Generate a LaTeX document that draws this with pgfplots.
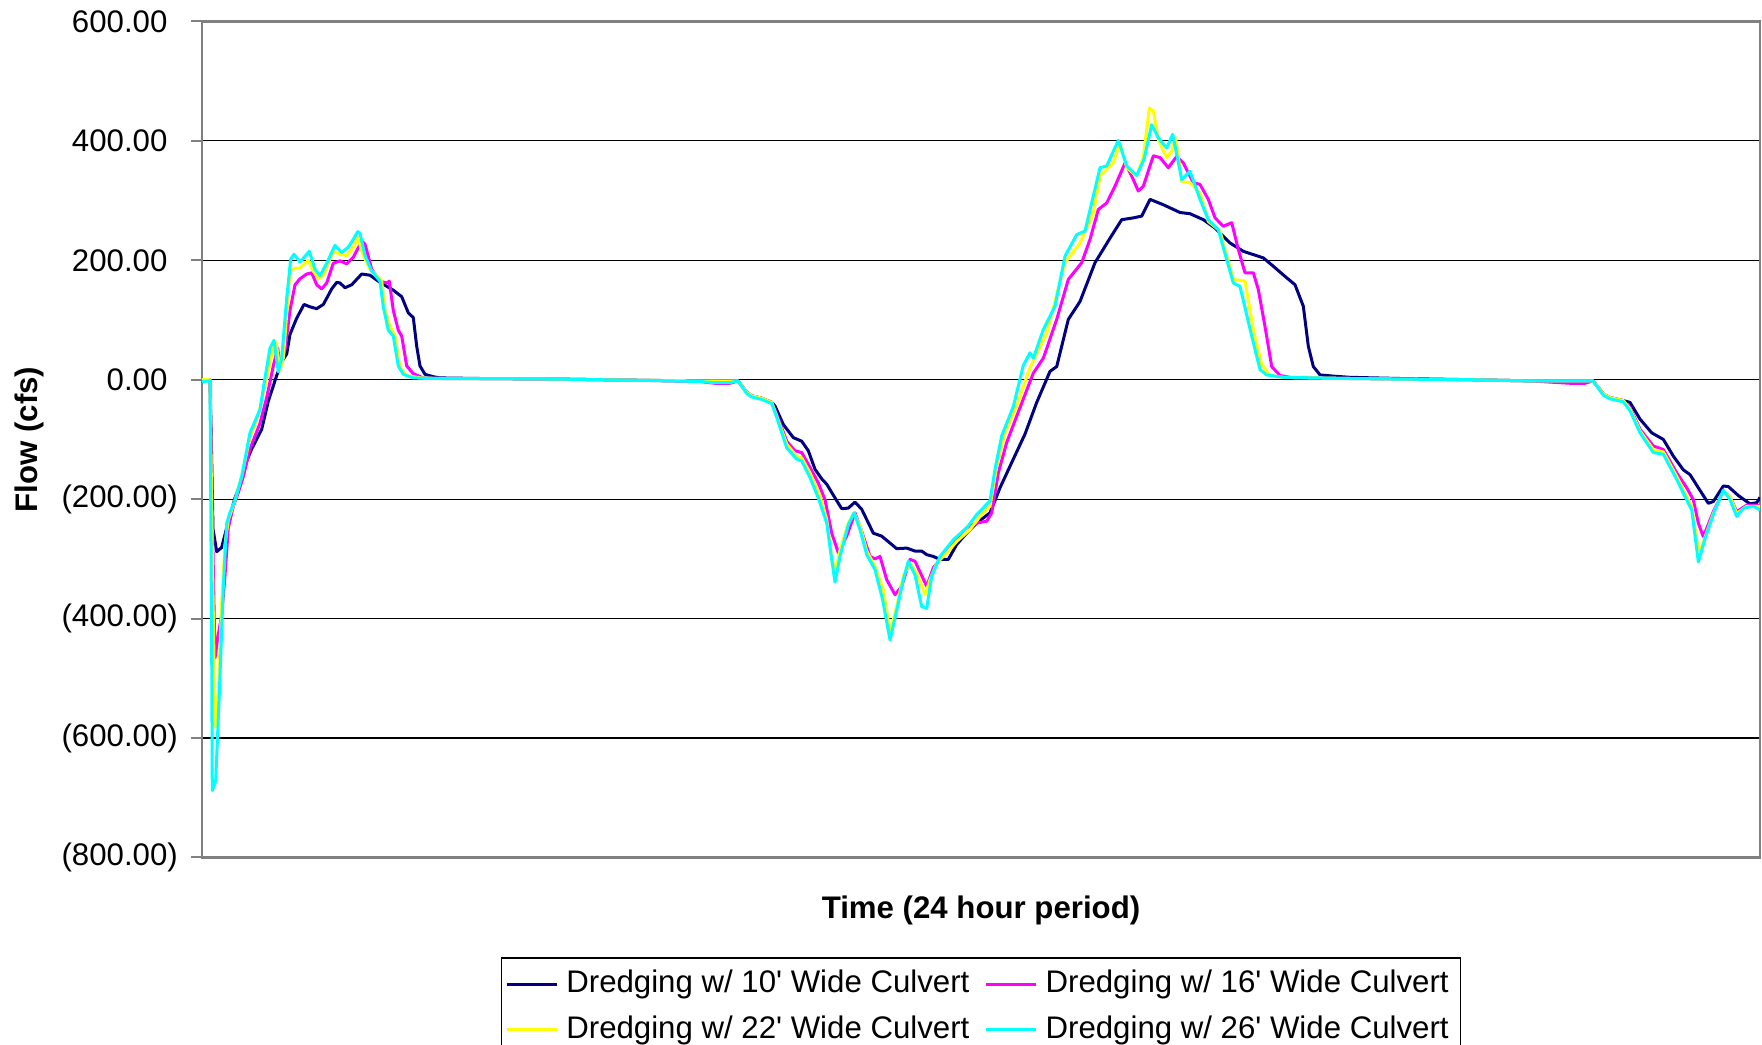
\documentclass[border=0pt]{standalone}
\usepackage{pgfplots}
\pgfplotsset{compat=1.18}
\usepackage{fontspec}
\setmainfont{Liberation Sans}
\newcommand\chartfont{\fontsize{7.8pt}{9.4pt}\selectfont}
\newcommand\q{\textquotesingle}
\definecolor{navyc}{RGB}{0,0,128}
\definecolor{magc}{RGB}{255,0,255}
\definecolor{yelc}{RGB}{255,255,0}
\definecolor{cyac}{RGB}{0,255,255}
\definecolor{bordc}{RGB}{128,128,128}
\begin{document}
\begin{tikzpicture}
\path[use as bounding box] (-50.5pt,-46.9pt) rectangle (390pt,214.35pt);
\begin{axis}[
  at={(0pt,0pt)}, anchor=south west,
  scale only axis, width=389.5pt, height=209pt,
  xmin=202, xmax=1760, ymin=-800, ymax=600,
  xtick=\empty,
  ytick={-800,-600,-400,-200,0,200,400,600},
  yticklabels={(800.00),(600.00),(400.00),(200.00),0.00\hphantom{)},200.00\hphantom{)},400.00\hphantom{)},600.00\hphantom{)}},
  ytick pos=left, tick align=outside, major tick length=2.8pt,
  tick style={draw=bordc, line width=0.5pt},
  yticklabel style={font=\chartfont, inner xsep=3.05pt},
  ymajorgrids, major grid style={black, line width=0.3pt},
  axis line style={draw=bordc, line width=0.6pt},
  xlabel={Time (24 hour period)},
  ylabel={Flow (cfs)},
  label style={font=\chartfont\bfseries},
  xlabel style={at={(axis description cs:0.5,-0.0629)}, anchor=center},
  ylabel style={at={(axis description cs:-0.1105,0.5)}, anchor=center},
  legend columns=2,
  legend style={at={(axis description cs:0.5,-0.1191)}, anchor=north, draw=black, line width=0.4pt,
    font=\chartfont, inner xsep=1.0pt, inner ysep=1.0pt, row sep=0.3pt,
    /tikz/every even column/.append style={column sep=1.8pt}},
  legend cell align=left,
  legend image code/.code={\draw[#1, line width=0.75pt] (0pt,0pt) -- (12.5pt,0pt);},
  every axis plot/.append style={line width=0.75pt, line join=round},
]
\addplot[navyc] coordinates {
(202,0)(210,0)(211.5,-120)(213,-250)(216.7,-288)(221.7,-281)(226.7,-248)(230,-228)(235,-198)(241.7,-169)(246.7,-136)(251.7,-116)(261.7,-83)(268.3,-36)(276.7,7)(281.7,30)(286.7,43)(290,76)(296.7,103)(304,126)(310,122)(316.7,119)(323.3,126)(331.7,152)(336.7,163)(340,162)(345,154)(351.7,159)(361.7,177)(370,175)(380,163)(393.3,150)(401.7,139)(408.3,112)(413.3,104)(416.7,56)(420,23)(425,9)(433.3,5)(440,3)(480,2)(560,1)(640,-1)(700,-2)(738,-2)(746.7,-21)(751.7,-27)(761.7,-31)(771.7,-38)(775,-44)(783.3,-75)(793.3,-97)(801.7,-103)(808.3,-119)(815,-150)(821.7,-166)(826.7,-175)(835,-198)(841.7,-216)(848.3,-215)(855,-205)(861.7,-217)(873.3,-257)(881.7,-262)(896.7,-283)(906.7,-282)(915,-287)(921.7,-287)(926.7,-293)(933.3,-296)(940,-301)(948.3,-301)(956.7,-276)(966.7,-257)(976.7,-240)(990,-223)(1000,-181)(1013.3,-133)(1025,-91)(1036.7,-38)(1050,14)(1056.7,22)(1068.3,101)(1080,131)(1095,196)(1110,237)(1121.7,268)(1133.3,271)(1141.7,274)(1150,302)(1163.3,293)(1180,280)(1190,278)(1203.3,268)(1215,254)(1230,229)(1243.3,215)(1263.3,204)(1273.3,190)(1285,173)(1295,159)(1303.3,123)(1308.3,56)(1313.3,22)(1320,8)(1333.3,6)(1350,4)(1400,2)(1470,0)(1530,-2)(1593,-2)(1603.3,-24)(1610,-30)(1623.3,-35)(1630,-38)(1640,-66)(1651.7,-89)(1663.3,-100)(1673.3,-128)(1683.3,-151)(1690,-159)(1698.3,-181)(1708.3,-207)(1713.3,-204)(1723.3,-178)(1728.3,-179)(1738.3,-194)(1750,-208)(1756.7,-206)(1760,-197)
};
\addlegendentry{Dredging w/ 10\q{} Wide Culvert}
\addplot[magc] coordinates {
(202,0)(210,0)(212,-200)(215,-466)(218.3,-427)(221.7,-394)(225,-328)(228.3,-248)(233.3,-212)(238.3,-189)(243.3,-162)(250,-116)(260,-73)(266.7,-30)(273.3,23)(277.7,53)(280,23)(285,50)(290,116)(295,159)(300,169)(306.7,177)(311.7,179)(316.7,159)(321.7,152)(326.7,162)(333.3,195)(340,199)(346.7,194)(353.3,205)(361.7,232)(365,227)(371.7,185)(380,165)(386.7,162)(389.3,165)(393.3,116)(398.3,83)(401.7,73)(406.7,23)(413.3,10)(423.3,3)(440,2)(480,2)(560,1)(640,-1)(700,-3)(715,-6)(730,-6)(738,-2)(746.7,-21)(751.7,-27)(761.7,-31)(771.7,-38)(776.7,-58)(786.7,-103)(795,-119)(801.7,-122)(810,-147)(818.3,-173)(825,-201)(831.7,-257)(838.3,-290)(846.7,-262)(855,-223)(861.7,-254)(870,-296)(875,-300)(880,-296)(886.7,-335)(895,-360)(901.7,-346)(910,-301)(915,-304)(926.7,-346)(933.3,-315)(940,-301)(953.3,-271)(966.7,-248)(976.7,-240)(986.7,-237)(991.7,-223)(998.3,-156)(1006.7,-105)(1016.7,-61)(1025,-25)(1033.3,11)(1043.3,36)(1056.7,101)(1068.3,168)(1081.7,196)(1090,235)(1098.3,285)(1106.7,296)(1115,324)(1125,363)(1131.7,341)(1138.3,316)(1143.3,324)(1153.3,375)(1160,372)(1168.3,355)(1176.7,374)(1183.3,363)(1193.3,330)(1200,327)(1208.3,302)(1215,271)(1223.3,257)(1231.7,263)(1238.3,218)(1245,179)(1253.3,179)(1258.3,151)(1265,89)(1271.7,22)(1280,7)(1293.3,3)(1350,2)(1400,1)(1470,0)(1530,-2)(1570,-6)(1585,-6)(1593,-2)(1603.3,-24)(1610,-30)(1623.3,-35)(1630,-47)(1640,-83)(1653.3,-111)(1663.3,-117)(1676.7,-156)(1686.7,-181)(1693.3,-201)(1698.3,-240)(1703.3,-263)(1713.3,-221)(1723.3,-187)(1730,-196)(1736.7,-221)(1746.7,-210)(1756.7,-210)(1760,-212)
};
\addlegendentry{Dredging w/ 16\q{} Wide Culvert}
\addplot[yelc] coordinates {
(202,0)(210,0)(212,-250)(215,-582)(218.3,-526)(221.7,-374)(225,-275)(228.3,-235)(235,-202)(241.7,-162)(250,-96)(258.3,-60)(266.7,3)(273.3,53)(276,63)(280,17)(283.3,36)(290,182)(295,187)(300,187)(308.3,200)(313.3,182)(318.3,169)(323.3,175)(333.3,215)(340,210)(346.7,208)(353.3,222)(357.7,238)(363.3,208)(370,185)(380,169)(381.7,165)(385,116)(390,89)(395,73)(400,20)(406.7,7)(420,3)(440,2)(480,2)(560,1)(640,-1)(700,-2)(738,-2)(746.7,-21)(751.7,-27)(761.7,-31)(771.7,-38)(776.7,-61)(786.7,-108)(796.7,-128)(801.7,-131)(810,-156)(820,-195)(826.7,-234)(831.7,-296)(835,-324)(840,-285)(848.3,-240)(854,-223)(860,-245)(866.7,-287)(875,-313)(883.3,-352)(890,-422)(896.7,-380)(903.3,-329)(910,-307)(916.7,-324)(925,-360)(930,-335)(936.7,-307)(946.7,-290)(956.7,-271)(970,-251)(980,-229)(990,-212)(996.7,-145)(1005,-89)(1016,-47)(1030,20)(1046.7,78)(1065,196)(1080,229)(1093.3,279)(1100,341)(1113.3,363)(1120,397)(1126.7,355)(1136.7,341)(1143.3,374)(1149.3,455)(1153.3,450)(1158.3,402)(1166.7,372)(1171.7,383)(1175.7,405)(1181.7,332)(1190,330)(1200,313)(1208.3,265)(1220,249)(1233.3,168)(1245,165)(1253.3,84)(1261.7,25)(1270,7)(1283.3,4)(1350,2)(1400,1)(1470,0)(1530,-2)(1593,-2)(1603.3,-24)(1610,-30)(1623.3,-35)(1630,-49)(1640,-86)(1653.3,-117)(1663.3,-121)(1676.7,-162)(1685,-190)(1691.7,-212)(1698.3,-285)(1701.7,-280)(1713.3,-224)(1723.3,-187)(1730,-196)(1736.7,-224)(1746.7,-212)(1760,-212)
};
\addlegendentry{Dredging w/ 22\q{} Wide Culvert}
\addplot[cyac] coordinates {
(202,-3)(210,-2)(211.7,-460)(212.3,-688)(215.7,-672)(219.3,-526)(223.3,-347)(226.7,-241)(230,-222)(235,-202)(241.7,-162)(250,-89)(260,-50)(265,3)(270,53)(274,66)(278.3,13)(281.7,36)(286.7,136)(290.7,202)(294,210)(300,197)(309.3,215)(315,185)(320,174)(326.7,195)(335,225)(341.7,213)(348.3,222)(353.3,235)(357.7,248)(360,245)(365,208)(371.7,182)(380,165)(383.3,122)(388.3,83)(393.3,73)(398.3,23)(403.3,9)(413.3,3)(440,2)(480,2)(560,1)(640,-1)(700,-3)(715,-5)(730,-5)(738,-2)(746.7,-23)(751.7,-29)(761.7,-33)(771.7,-40)(776.7,-63)(786.7,-114)(796.7,-133)(801.7,-136)(810,-164)(818.3,-198)(826.7,-240)(831.7,-301)(835,-339)(840,-296)(848.3,-243)(854,-223)(860,-251)(866.7,-293)(875,-318)(882.7,-369)(890,-436)(896.7,-386)(903.3,-335)(908.3,-304)(915,-327)(921.7,-380)(926.7,-383)(931.7,-329)(940,-296)(953.3,-268)(966.7,-248)(976.7,-226)(990,-203)(995,-150)(1001.7,-94)(1013.3,-45)(1023.3,24)(1030,45)(1033.3,36)(1043.3,84)(1055,123)(1065,207)(1076.7,243)(1085,249)(1100,355)(1106.7,358)(1118.3,401)(1126.7,358)(1136.7,342)(1144,369)(1151.7,427)(1158.3,405)(1166.7,388)(1172.7,411)(1181.7,335)(1190,349)(1200,302)(1208.3,268)(1218.3,251)(1233.3,162)(1240,156)(1251.7,73)(1260,17)(1266.7,8)(1283.3,4)(1350,2)(1400,1)(1470,0)(1530,-2)(1593,-2)(1603.3,-26)(1610,-32)(1623.3,-37)(1630,-52)(1640,-89)(1653.3,-122)(1663.3,-125)(1676.7,-167)(1685,-196)(1691.7,-218)(1698.3,-305)(1705,-266)(1715,-218)(1723.3,-185)(1730,-201)(1736.7,-229)(1743.3,-215)(1753.3,-212)(1760,-218)
};
\addlegendentry{Dredging w/ 26\q{} Wide Culvert}
\end{axis}
\end{tikzpicture}
\end{document}
